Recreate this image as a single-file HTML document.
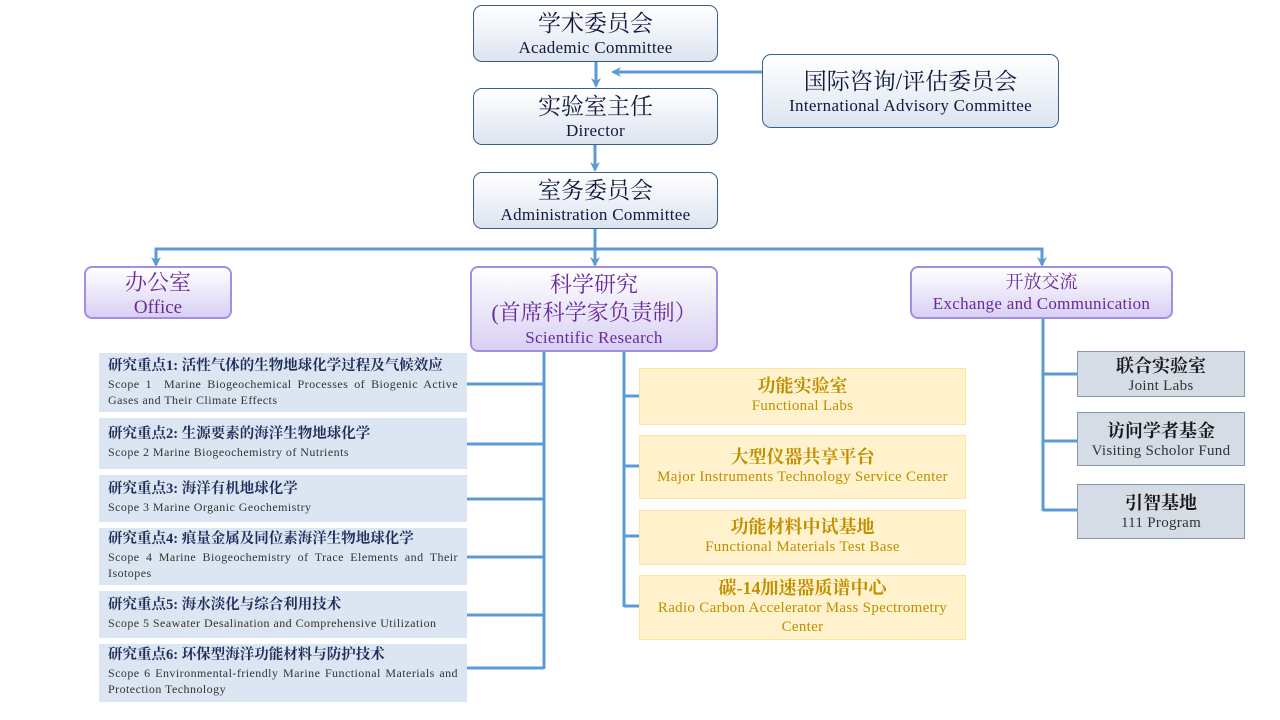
<!DOCTYPE html>
<html><head><meta charset="utf-8"><style>
body{margin:0;width:1280px;height:720px;background:#fff;position:relative;overflow:hidden;font-family:"Liberation Serif","Noto Serif CJK SC",serif}
.b{position:absolute;box-sizing:border-box;text-align:center}
.top{border:1px solid #3a5f8a;border-radius:9px;background:linear-gradient(#fff,#dde4f0);color:#0f1a3c}
.top .c{font-size:23px;line-height:28px;margin-top:4px}
.top .e{font-size:17px;line-height:19px;letter-spacing:0.3px}
.pu{border:2px solid #a48ee0;border-radius:8px;background:linear-gradient(#fff,#d8d0f4);color:#6a2a9a}
.sc{background:#dce6f2;text-align:left;padding:4px 9px;color:#1f2d5a}
.sc .c{font-size:14.5px;font-weight:bold;line-height:19px}
.sc .e{font-size:12px;line-height:16px;color:#333;text-align:justify;letter-spacing:0.45px}
.ye{background:#fff2cc;border:1px solid #fbe5a0;color:#bf8f00}
.ye .c{font-size:18px;font-weight:bold;line-height:22px}
.ye .e{font-size:15px;line-height:19px;letter-spacing:0.3px}
.gr{background:#d6dce5;border:1px solid #8497b0;color:#1a1a1a}
.gr .c{font-size:18px;font-weight:bold;line-height:22px}
.gr .e{font-size:15px;line-height:18px;color:#333;letter-spacing:0.3px}
svg{position:absolute;left:0;top:0}
</style></head><body>
<svg width="1280" height="720">
<defs><marker id="a" markerWidth="10" markerHeight="10" refX="8" refY="5" orient="auto" markerUnits="userSpaceOnUse"><path d="M0,0 L10,5 L0,10 L3,5z" fill="#5b9bd5"/></marker></defs>
<g stroke="#5b9bd5" stroke-width="3" fill="none">
<line x1="596" y1="62" x2="596" y2="86" marker-end="url(#a)"/>
<line x1="762" y1="72" x2="613" y2="72" marker-end="url(#a)"/>
<line x1="595" y1="145" x2="595" y2="170" marker-end="url(#a)"/>
<line x1="595" y1="229" x2="595" y2="265" marker-end="url(#a)"/>
<polyline points="156,258 156,249 1042,249 1042,258"/>
<line x1="156" y1="255" x2="156" y2="265" marker-end="url(#a)"/>
<line x1="1042" y1="255" x2="1042" y2="265" marker-end="url(#a)"/>
<line x1="544" y1="351" x2="544" y2="669"/>
<line x1="466" y1="384" x2="544" y2="384"/><line x1="466" y1="444" x2="544" y2="444"/>
<line x1="466" y1="499" x2="544" y2="499"/><line x1="466" y1="557" x2="544" y2="557"/>
<line x1="466" y1="615" x2="544" y2="615"/><line x1="466" y1="668" x2="544" y2="668"/>
<line x1="624" y1="351" x2="624" y2="607"/>
<line x1="624" y1="396" x2="639" y2="396"/><line x1="624" y1="466" x2="639" y2="466"/>
<line x1="624" y1="536" x2="639" y2="536"/><line x1="624" y1="606" x2="639" y2="606"/>
<line x1="1043" y1="318" x2="1043" y2="511"/>
<line x1="1043" y1="374" x2="1077" y2="374"/><line x1="1043" y1="441" x2="1077" y2="441"/>
<line x1="1043" y1="510" x2="1077" y2="510"/>
</g></svg>

<div class="b top" style="left:473px;top:5px;width:245px;height:57px"><div class="c">学术委员会</div><div class="e">Academic Committee</div></div>
<div class="b top" style="left:473px;top:88px;width:245px;height:57px"><div class="c">实验室主任</div><div class="e">Director</div></div>
<div class="b top" style="left:473px;top:172px;width:245px;height:57px"><div class="c">室务委员会</div><div class="e">Administration Committee</div></div>
<div class="b top" style="left:762px;top:54px;width:297px;height:74px;padding-top:9px"><div class="c">国际咨询/评估委员会</div><div class="e">International Advisory Committee</div></div>

<div class="b pu" style="left:84px;top:266px;width:148px;height:53px"><div style="font-size:22px;line-height:28px;margin-top:1px">办公室</div><div style="font-size:19px;line-height:21px">Office</div></div>
<div class="b pu" style="left:470px;top:266px;width:248px;height:86px"><div style="font-size:22px;line-height:28px;margin-top:3px">科学研究</div><div style="font-size:22px;line-height:28px">(首席科学家负责制）</div><div style="font-size:17px;line-height:22px;letter-spacing:0.3px">Scientific Research</div></div>
<div class="b pu" style="left:910px;top:266px;width:263px;height:53px"><div style="font-size:18px;line-height:24px;margin-top:2px">开放交流</div><div style="font-size:17px;line-height:20px;letter-spacing:0.3px">Exchange and Communication</div></div>

<div class="b sc" style="left:99px;top:353px;width:368px;height:59px"><div class="c">研究重点1: 活性气体的生物地球化学过程及气候效应</div><div class="e">Scope 1&nbsp; Marine Biogeochemical Processes of Biogenic Active Gases and Their Climate Effects</div></div>
<div class="b sc" style="left:99px;top:418px;width:368px;height:51px;padding-top:7px"><div class="c">研究重点2: 生源要素的海洋生物地球化学</div><div class="e">Scope 2 Marine Biogeochemistry of Nutrients</div></div>
<div class="b sc" style="left:99px;top:475px;width:368px;height:47px;padding-top:5px"><div class="c">研究重点3: 海洋有机地球化学</div><div class="e">Scope 3 Marine Organic Geochemistry</div></div>
<div class="b sc" style="left:99px;top:528px;width:368px;height:57px;padding-top:2px"><div class="c">研究重点4: 痕量金属及同位素海洋生物地球化学</div><div class="e">Scope 4 Marine Biogeochemistry of Trace Elements and Their Isotopes</div></div>
<div class="b sc" style="left:99px;top:591px;width:368px;height:47px;padding-top:5px"><div class="c">研究重点5: 海水淡化与综合利用技术</div><div class="e">Scope 5 Seawater Desalination and Comprehensive Utilization</div></div>
<div class="b sc" style="left:99px;top:644px;width:368px;height:58px;padding-top:2px"><div class="c">研究重点6: 环保型海洋功能材料与防护技术</div><div class="e">Scope 6 Environmental-friendly Marine Functional Materials and Protection Technology</div></div>

<div class="b ye" style="left:639px;top:368px;width:327px;height:57px;padding-top:6px"><div class="c">功能实验室</div><div class="e">Functional Labs</div></div>
<div class="b ye" style="left:639px;top:435px;width:327px;height:64px;padding-top:10px"><div class="c">大型仪器共享平台</div><div class="e">Major Instruments Technology Service Center</div></div>
<div class="b ye" style="left:639px;top:510px;width:327px;height:55px;padding-top:5px"><div class="c">功能材料中试基地</div><div class="e">Functional Materials Test Base</div></div>
<div class="b ye" style="left:639px;top:575px;width:327px;height:65px;padding:1px 8px 0"><div class="c">碳-14加速器质谱中心</div><div class="e">Radio Carbon Accelerator Mass Spectrometry Center</div></div>

<div class="b gr" style="left:1077px;top:351px;width:168px;height:46px;padding-top:3px"><div class="c">联合实验室</div><div class="e">Joint Labs</div></div>
<div class="b gr" style="left:1077px;top:412px;width:168px;height:54px;padding-top:7px"><div class="c">访问学者基金</div><div class="e">Visiting Scholor Fund</div></div>
<div class="b gr" style="left:1077px;top:484px;width:168px;height:55px;padding-top:7px"><div class="c">引智基地</div><div class="e">111 Program</div></div>
</body></html>
